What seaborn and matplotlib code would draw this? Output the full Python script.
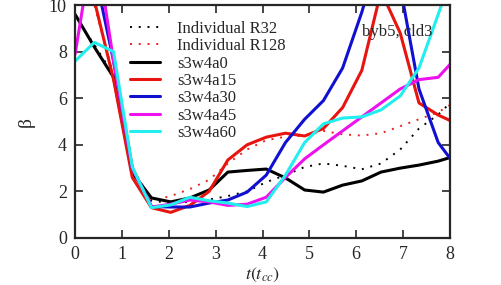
import numpy as np
import pandas as pd
import matplotlib
matplotlib.use("Agg")
import matplotlib.pyplot as plt
import seaborn as sns

# time axis (t_cc) and beta for each run
t = [0.00, 0.41, 0.82, 1.22, 1.63, 2.04, 2.45, 2.86, 3.26, 3.67, 4.08,
     4.49, 4.90, 5.30, 5.71, 6.12, 6.53, 6.94, 7.34, 7.75, 8.16]

ind_r32 = [9.5, 8.3, 7.0, 3.0, 1.6, 1.5, 1.55, 1.65, 1.8, 2.0, 2.4,
           2.7, 3.05, 3.2, 3.1, 2.95, 3.2, 3.8, 4.7, 5.3, 6.1]
ind_r128 = [11.0, 10.0, 7.0, 3.0, 1.6, 1.8, 2.1, 2.5, 3.2, 3.8, 4.2,
            4.35, 4.4, 4.6, 4.45, 4.4, 4.5, 4.8, 5.1, 5.4, 5.9]
a0 = [9.6, 8.2, 6.9, 2.8, 1.72, 1.55, 1.72, 2.06, 2.83, 2.9, 2.96,
      2.58, 2.06, 1.97, 2.27, 2.45, 2.83, 3.0, 3.13, 3.3, 3.55]
a15 = [12.0, 10.2, 6.8, 2.6, 1.3, 1.1, 1.4, 2.0, 3.35, 4.0, 4.33,
       4.5, 4.38, 4.7, 5.6, 7.2, 10.6, 8.8, 5.8, 5.28, 4.9]
a30 = [13.0, 11.5, 7.6, 3.0, 1.35, 1.33, 1.33, 1.5, 1.63, 1.97, 2.7,
       4.1, 5.1, 5.9, 7.3, 9.7, 12.5, 10.8, 6.4, 4.1, 3.0]
a45 = [7.9, 13.0, 7.6, 3.0, 1.33, 1.45, 1.63, 1.55, 1.4, 1.45, 1.75,
       2.6, 3.4, 4.0, 4.6, 5.2, 5.8, 6.4, 6.8, 6.9, 7.8]
a60 = [7.6, 8.4, 8.0, 3.05, 1.3, 1.42, 1.75, 1.6, 1.5, 1.35, 1.55,
       2.7, 4.1, 4.9, 5.15, 5.2, 5.5, 6.1, 7.3, 9.6, 12.0]

labels = ["Individual R32", "Individual R128", "s3w4a0", "s3w4a15",
          "s3w4a30", "s3w4a45", "s3w4a60"]
series = [ind_r32, ind_r128, a0, a15, a30, a45, a60]
colors = ["#000000", "#e8221e", "#000000", "#e8140f", "#1010d0", "#ee11ee", "#22eeee"]

sns.set_style("ticks")
plt.rcParams["font.family"] = ["Liberation Serif", "DejaVu Serif"]
plt.rcParams["mathtext.fontset"] = "stix"

fig = plt.figure(figsize=(5.01, 2.85), dpi=100)
ax = fig.add_axes([0.15, 0.165, 0.748, 0.817])

for lab, vals, col in zip(labels, series, colors):
    df = pd.DataFrame({"t": t, "beta": vals})
    if lab.startswith("Individual"):
        sns.lineplot(data=df, x="t", y="beta", ax=ax, color=col, lw=1.4,
                     ls=(0, (1, 3.5)), label=lab)
    else:
        sns.lineplot(data=df, x="t", y="beta", ax=ax, color=col, lw=2.2,
                     label=lab)

ax.set_xlim(0, 8)
ax.set_ylim(0, 10)
ax.set_xticks(range(0, 9))
ax.set_yticks([0, 2, 4, 6, 8, 10])
ax.tick_params(direction="in", length=6, width=1.2, top=True, right=True,
               labelsize=13, pad=6)
for s in ax.spines.values():
    s.set_linewidth(1.6)

ax.set_xlabel(r"$t(t_{cc})$", fontsize=13, labelpad=2)
ax.set_ylabel("β", fontsize=14, rotation=90, labelpad=10)

ax.text(0.952, 0.885, "byb5, cld3", transform=ax.transAxes,
        ha="right", va="center", fontsize=12)

leg = ax.legend(loc="upper left", bbox_to_anchor=(0.12, 0.975), frameon=False,
                fontsize=12, handlelength=1.8, handletextpad=1.0,
                labelspacing=0.08, borderaxespad=0.2)

fig.savefig("out.png", dpi=100)
